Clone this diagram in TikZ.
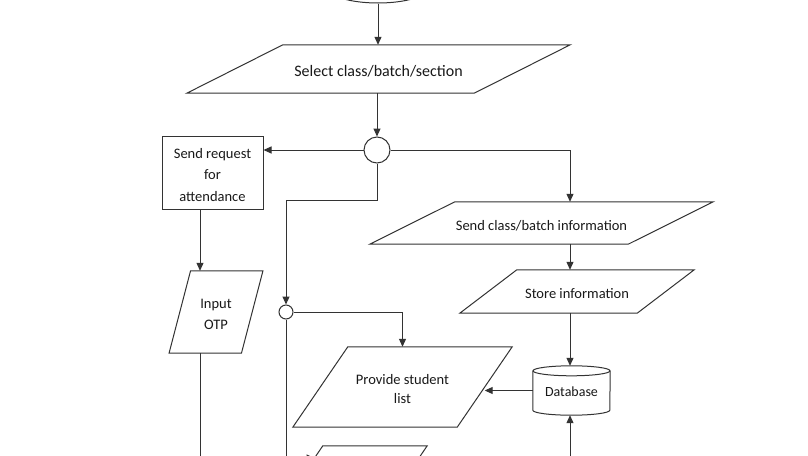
\documentclass[tikz,border=0pt]{standalone}
\usepackage{fontspec}
\setmainfont{Carlito}
\usetikzlibrary{arrows.meta,shapes.geometric,calc}
\newcommand\parashape[2]{\draw[line] ([xshift=#2]#1.north west) -- ([xshift=#2]#1.north east) -- ([xshift=-#2]#1.south east) -- ([xshift=-#2]#1.south west) -- cycle;}
\begin{document}
\begin{tikzpicture}[x=1pt,y=-1pt,
  line/.style={draw=black!80, line width=1pt},
  arr/.style={line, -{Triangle[length=8pt,width=7pt]}},
  shp/.style={inner sep=0pt},
  lbl/.style={text=black!90, font=\fontsize{14.5}{21.5}\selectfont, align=center, inner sep=0pt, yshift=-2.5pt},
]
\useasboundingbox (0,0) rectangle (808,455);
\clip (0,0) rectangle (808,455);
\fill[white] (0,0) rectangle (808,455);

% column coordinates
\coordinate (colR) at (570,0);
\coordinate (colL) at (200,0);
\coordinate (bend) at (286,200);
\coordinate (below) at (0,490);

% shapes
\node[ellipse, line, minimum width=100pt, minimum height=30pt] (start) at (378,-12) {};

\node[shp, minimum width=287pt, minimum height=48pt] (sel) at (378.5,69) {};
\parashape{sel}{48pt}
\node[lbl, font=\fontsize{16}{20}\selectfont] (selt) at (sel) {Select class/batch/section};

\node[circle, line, minimum size=26pt, inner sep=0pt] (c1) at (377,150) {};

\node[shp, line, minimum width=101pt, minimum height=73pt] (req) at (212.5,172.5) {};
\node[lbl] (reqt) at (req) {Send request\\for\\attendance};

\node[shp, minimum width=258pt, minimum height=42pt] (sci) at (541.5,223) {};
\parashape{sci}{42.5pt}
\node[lbl] (scit) at (sci) {Send class/batch information};

\node[shp, minimum width=177pt, minimum height=43pt] (sti) at (577,291.5) {};
\parashape{sti}{28.5pt}
\node[lbl] (stit) at (sti) {Store information};

\node[shp, minimum width=72pt, minimum height=82pt] (otp) at (216,312) {};
\parashape{otp}{10.75pt}
\node[lbl] (otpt) at (otp) {Input\\OTP};

\node[circle, line, minimum size=14pt, inner sep=0pt] (c2) at (286,312) {};

\node[shp, minimum width=164pt, minimum height=80pt] (psl) at (402.5,387) {};
\parashape{psl}{27.5pt}
\node[lbl, font=\fontsize{14.5}{18.5}\selectfont, yshift=0.5pt] (pslt) at (psl) {Provide student\\list};

\node[shp, minimum width=77pt, minimum height=49pt] (db) at (571.5,390.5) {};
\draw[line] ([yshift=-5pt]db.north west) -- ([yshift=5pt]db.south west)
  arc[start angle=180, end angle=360, x radius=38.5pt, y radius=5pt]
  -- ([yshift=-5pt]db.north east);
\draw[line] ([yshift=-5pt]db.north) ellipse [x radius=38.5pt, y radius=5pt];
\node[lbl, font=\fontsize{14}{17}\selectfont, yshift=1.5pt] (dbt) at (db) {Database};

\node[shp, minimum width=104pt, minimum height=24pt] (bot) at (366.7,458) {};
\parashape{bot}{8.3pt}

% connectors
\draw[arr] (start.south) -- (start.south |- sel.north);
\draw[arr] (sel.south -| c1) -- (c1.north);
\draw[arr] (c1.west) -- (c1.west -| req.east);
\draw[arr] (c1.east) -| (colR |- sci.north);
\draw[arr] (colR |- sci.south) -- (colR |- sti.north);
\draw[arr] (colR |- sti.south) -- (colR |- db.north);
\draw[arr] (colR |- below) -- (colR |- db.south);
\draw[arr] (db.west) -- (db.west -| psl.east);
\draw[arr] (c1.south) |- (bend) -- (c2.north);
\draw[arr] (c2.east) -| (psl.north);
\draw[line] (c2.south) -- (c2 |- below);
\draw[arr] (c2 |- bot.west) -- (bot.west);
\draw[arr] (colL |- req.south) -- (colL |- otp.north);
\draw[line] (colL |- otp.south) -- (colL |- below);
\end{tikzpicture}
\end{document}
